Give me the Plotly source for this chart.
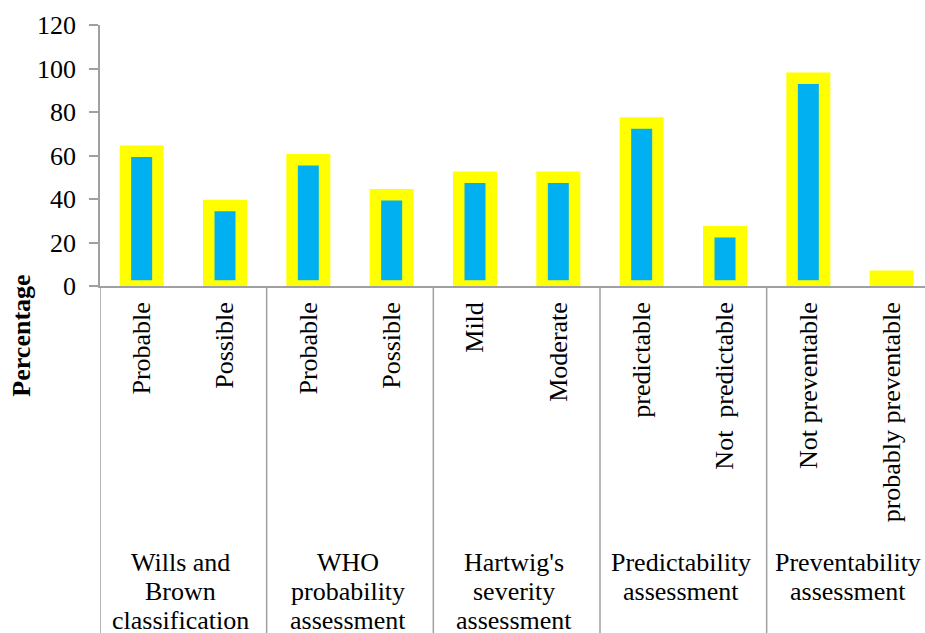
import plotly.graph_objects as go

categories = ["Probable", "Possible", "Probable", "Possible", "Mild", "Moderate",
              "predictable", "Not  predictable", "Not preventable", "probably preventable"]
values = [62, 37, 58, 42, 50, 50, 75, 25, 95.5, 4.5]
group_lines = [
    ["Wills and", "Brown", "classification"],
    ["WHO", "probability", "assessment"],
    ["Hartwig's", "severity", "assessment"],
    ["Predictability", "assessment"],
    ["Preventability", "assessment"],
]
group_size = [2, 2, 2, 2, 2]
y_ticks = [0, 20, 40, 60, 80, 100, 120]

FONT = "Liberation Serif, Times New Roman, serif"
GRAY = "#A0A0A0"

positions = list(range(len(categories)))

fig = go.Figure(go.Bar(
    x=positions,
    y=values,
    width=0.39,
    marker=dict(color="#00B0F0", line=dict(color="#FFFF00", width=11.5)),
    hoverinfo="skip",
))

# group dividers and group labels (multi-level category axis)
plot_h = 633 - 25 - 347
line_px = [276, 305.5, 334.5]  # centre of each label line, px below the axis
annotations = [dict(
    text="<b>Percentage</b>", textangle=-90,
    xref="paper", yref="paper", x=-0.0945, y=-0.19,
    showarrow=False, font=dict(family=FONT, size=26, color="black"),
    xanchor="center", yanchor="middle",
)]
shapes = []
start = 0
for lines, n in zip(group_lines, group_size):
    shapes.append(dict(type="line", xref="x", yref="paper",
                       x0=start - 0.5, x1=start - 0.5, y0=0, y1=-1.4,
                       line=dict(color=GRAY, width=1.5), layer="above"))
    centre = start + (n - 1) / 2
    for i, txt in enumerate(lines):
        annotations.append(dict(
            text=txt, xref="x", yref="paper", x=centre - 0.03, y=-line_px[i] / plot_h,
            showarrow=False, xanchor="center", yanchor="middle",
            font=dict(family=FONT, size=26, color="black"),
        ))
    start += n

fig.update_layout(
    width=925, height=633,
    margin=dict(l=100, r=0, t=25, b=347, autoexpand=False),
    paper_bgcolor="white", plot_bgcolor="white",
    showlegend=False,
    font=dict(family=FONT, size=26, color="black"),
    annotations=annotations,
    shapes=shapes,
)

fig.update_xaxes(
    range=[-0.5, 9.4],
    tickvals=positions, ticktext=categories,
    tickangle=-90,
    showline=True, linecolor=GRAY, linewidth=1.5,
    ticks="", showgrid=False, zeroline=False,
    tickfont=dict(family=FONT, size=26, color="black"),
    ticklabelstandoff=4,
)
fig.update_yaxes(
    range=[0, 120], tickvals=y_ticks,
    showline=True, linecolor=GRAY, linewidth=1.5,
    ticks="outside", ticklen=9, tickcolor=GRAY, tickwidth=1.5,
    showgrid=False, zeroline=False,
    tickfont=dict(family=FONT, size=26, color="black"),
    ticklabelstandoff=8,
)

fig.write_html("out.html")
